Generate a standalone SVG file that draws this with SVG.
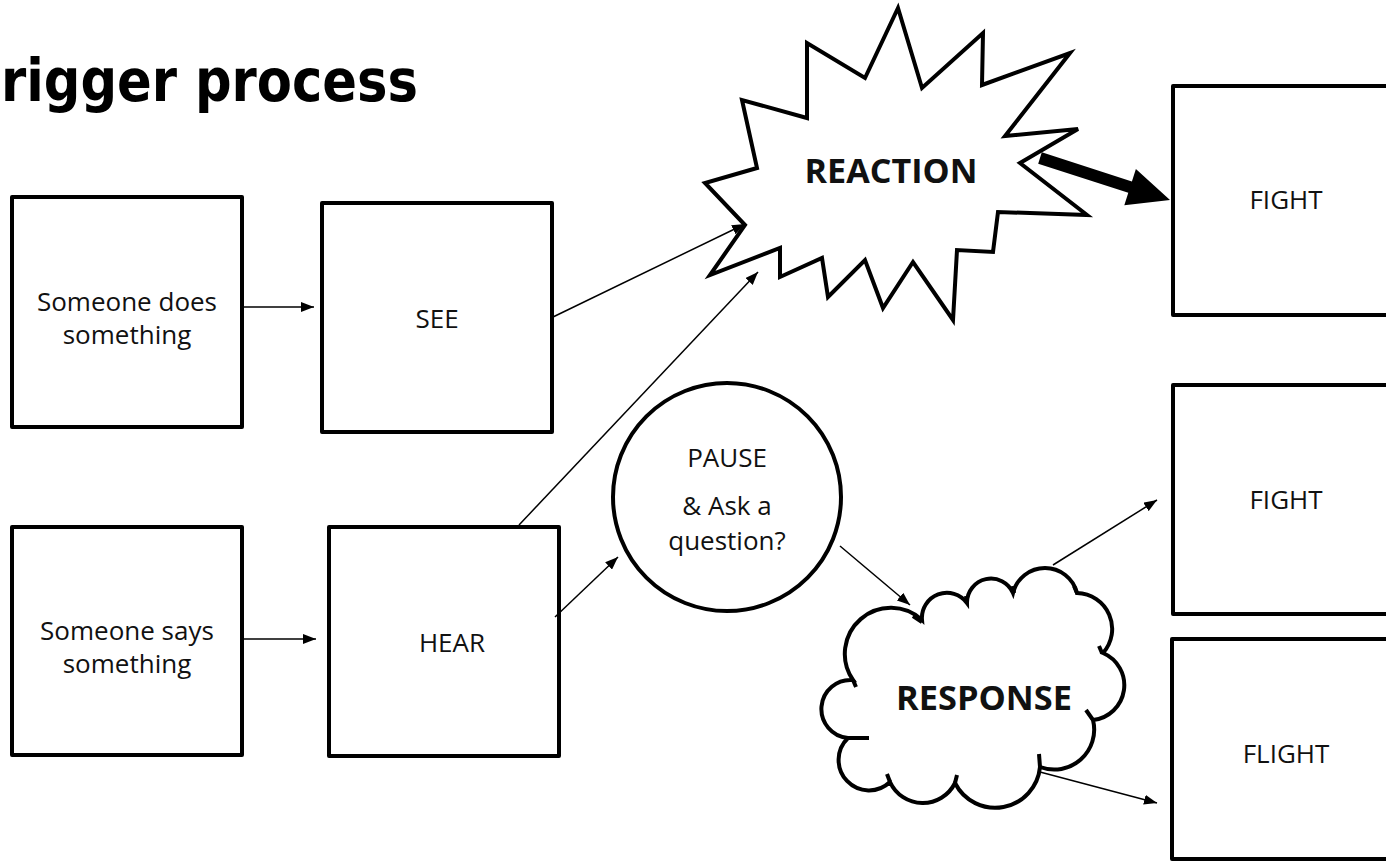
<svg xmlns="http://www.w3.org/2000/svg" width="1386" height="867" viewBox="0 0 1386 867">
<style>
.box{fill:#fff;stroke:#000;stroke-width:4;stroke-linejoin:round}
.shape{fill:#fff;stroke:#000;stroke-width:4;stroke-linejoin:miter}
.tick{fill:none;stroke:#000;stroke-width:4}
.lbl{font-family:"Open Sans","Noto Sans",sans-serif;font-size:26px;fill:#111;text-anchor:middle}
.big{font-family:"Open Sans","Noto Sans",sans-serif;font-size:34px;font-weight:bold;fill:#111;text-anchor:middle}
.title{font-family:"DejaVu Sans",sans-serif;font-size:58px;font-weight:900;fill:#000}
.conn{stroke:#000;stroke-width:1.5;fill:none;marker-end:url(#ah)}
</style>
<defs>
<marker id="ah" markerUnits="userSpaceOnUse" markerWidth="13" markerHeight="10" refX="13" refY="5" orient="auto">
<path d="M0,0 L13,5 L0,10 z" fill="#000"/>
</marker>
</defs>
<rect width="1386" height="867" fill="#fff"/>
<text id="title" class="title" x="1" y="101" textLength="417" lengthAdjust="spacingAndGlyphs">rigger process</text>

<g id="node-does">
<rect class="box" x="12" y="197" width="230" height="230"/>
<text class="lbl" x="127" y="311">Someone does</text>
<text class="lbl" x="127" y="344">something</text>
</g>
<g id="node-see">
<rect class="box" x="322" y="203" width="230" height="229"/>
<text class="lbl" x="437" y="328">SEE</text>
</g>
<g id="node-says">
<rect class="box" x="12" y="527" width="230" height="228"/>
<text class="lbl" x="127" y="640">Someone says</text>
<text class="lbl" x="127" y="673">something</text>
</g>
<g id="node-hear">
<rect class="box" x="329" y="527" width="230" height="229"/>
<text class="lbl" x="452" y="652">HEAR</text>
</g>
<g id="node-reaction">
<polygon class="shape" points="898,8 922,88 983,33 982,85 1070,53 1005,136 1078,129 1020,163 1087,215 998,212 993,252 957,250 953,320 913,262 883,308 865,260 828,297 822,258 780,277 780,248 710,275 745,225 705,183 757,168 742,100 807,118 807,43 865,78"/>
<text class="big" x="891" y="183" textLength="173" lengthAdjust="spacingAndGlyphs">REACTION</text>
</g>
<g id="node-pause">
<circle class="shape" cx="727" cy="497" r="114"/>
<text class="lbl" x="727" y="467">PAUSE</text>
<text class="lbl" x="727" y="515">&amp; Ask a</text>
<text class="lbl" x="727" y="550">question?</text>
</g>
<g id="node-response">
<path class="shape" d="M922,620 A25,25 0 0 1 967,603 A24,24 0 0 1 1013,593 A33,33 0 0 1 1077,593 A36,36 0 0 1 1103,653 A35,35 0 0 1 1093,720 A40,40 0 0 1 1040,767 A45,45 0 0 1 955,783 A36,36 0 0 1 890,782 A28,28 0 0 1 848,738 A29,29 0 0 1 853,680 A46,46 0 0 1 922,620 Z"/>
<path class="tick" d="M913,616 L922,622 M966,596 L967,603 M1013,586 L1014,593 M1074,586 L1077,593 M1099,646 L1102,653 M1086,710 L1093,720 M1039,754 L1040,767 M955,783 L957,775 M890,782 L887,774 M848,738 L869,738 M853,680 L856,687"/>
<text class="big" x="984" y="710" textLength="176" lengthAdjust="spacingAndGlyphs">RESPONSE</text>
</g>
<g id="node-fight1">
<rect class="box" x="1173" y="86" width="230" height="229"/>
<text class="lbl" x="1286" y="209">FIGHT</text>
</g>
<g id="node-fight2">
<rect class="box" x="1173" y="385" width="230" height="229"/>
<text class="lbl" x="1286" y="509">FIGHT</text>
</g>
<g id="node-flight">
<rect class="box" x="1172" y="639" width="230" height="220"/>
<text class="lbl" x="1286" y="763">FLIGHT</text>
</g>

<g id="connectors">
<line class="conn" x1="244" y1="307" x2="314" y2="307"/>
<line class="conn" x1="244" y1="639" x2="316" y2="639"/>
<line class="conn" x1="553" y1="317" x2="745" y2="224"/>
<line class="conn" x1="519" y1="525" x2="758" y2="272"/>
<line class="conn" x1="555" y1="617" x2="618" y2="557"/>
<line class="conn" x1="840" y1="546" x2="910" y2="605"/>
<line class="conn" x1="1053" y1="565" x2="1157" y2="500"/>
<line class="conn" x1="1040" y1="772" x2="1157" y2="803"/>
<polygon fill="#000" points="1041.8,152.3 1131.9,181.4 1135.9,169 1170,200 1124.3,205.2 1128.3,192.8 1038.2,163.7"/>
</g>
</svg>
